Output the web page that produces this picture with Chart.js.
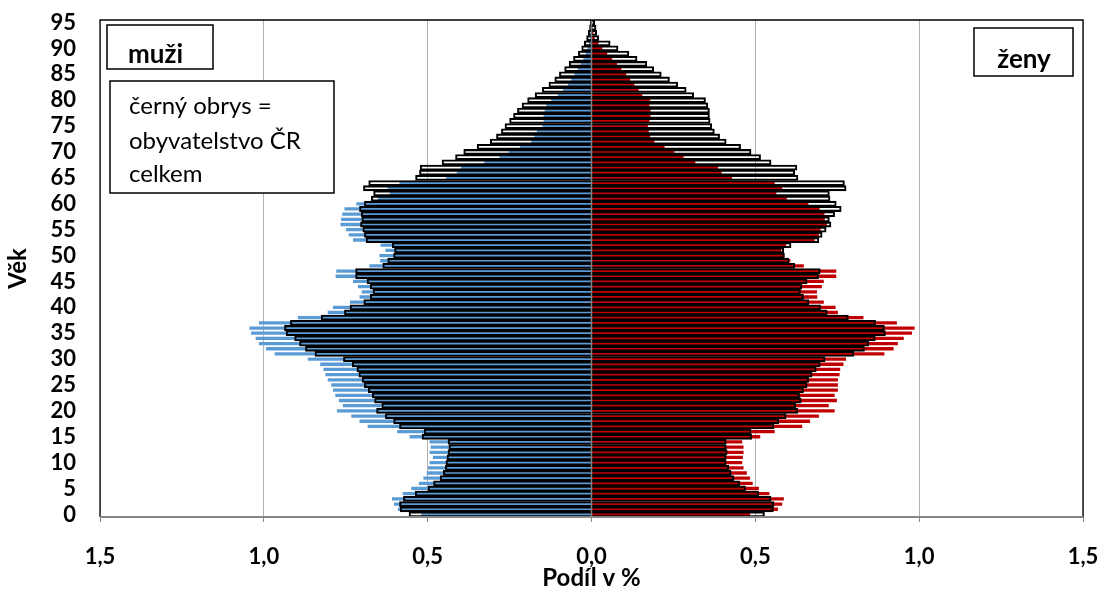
<!DOCTYPE html>
<html>
<head>
<meta charset="utf-8">
<script src="https://cdn.jsdelivr.net/npm/chart.js@4.4.1/dist/chart.umd.min.js"></script>
<style>
  html, body { margin: 0; padding: 0; background: #fff; }
  #wrap { width: 1103px; height: 590px; }
</style>
</head>
<body>
<div id="wrap"><canvas id="pyramida" width="1103" height="590"></canvas></div>
<script>
// vek 0..95
const vek = [];
for (let i = 0; i <= 95; i++) vek.push(String(i));

// podil v % - okres (barevne sloupce)
const muziOkres = [
  0.520, 0.591, 0.603, 0.609, 0.576, 0.550, 0.527, 0.513, 0.503, 0.499,
  0.494, 0.484, 0.494, 0.491, 0.494, 0.555, 0.593, 0.683, 0.708, 0.733,
  0.777, 0.759, 0.771, 0.782, 0.789, 0.794, 0.805, 0.812, 0.818, 0.828,
  0.866, 0.967, 0.993, 1.015, 1.025, 1.039, 1.044, 1.015, 0.896, 0.805,
  0.789, 0.737, 0.708, 0.701, 0.713, 0.728, 0.781, 0.779, 0.678, 0.645,
  0.647, 0.629, 0.644, 0.728, 0.741, 0.749, 0.766, 0.764, 0.761, 0.754,
  0.718, 0.652, 0.616, 0.622, 0.586, 0.444, 0.411, 0.398, 0.327, 0.281,
  0.252, 0.218, 0.184, 0.174, 0.167, 0.150, 0.146, 0.146, 0.143, 0.138,
  0.123, 0.103, 0.087, 0.072, 0.062, 0.052, 0.042, 0.033, 0.025, 0.018,
  0.012, 0.008, 0.005, 0.003, 0.002, 0.001
];
const zenyOkres = [
  0.484, 0.569, 0.582, 0.587, 0.543, 0.511, 0.492, 0.484, 0.474, 0.464,
  0.460, 0.462, 0.464, 0.464, 0.460, 0.515, 0.559, 0.643, 0.667, 0.694,
  0.742, 0.724, 0.749, 0.742, 0.752, 0.752, 0.752, 0.757, 0.759, 0.769,
  0.777, 0.894, 0.922, 0.935, 0.953, 0.978, 0.986, 0.932, 0.830, 0.752,
  0.745, 0.709, 0.689, 0.688, 0.703, 0.709, 0.747, 0.747, 0.648, 0.607,
  0.586, 0.579, 0.594, 0.681, 0.694, 0.699, 0.718, 0.712, 0.711, 0.696,
  0.662, 0.596, 0.564, 0.582, 0.559, 0.429, 0.397, 0.386, 0.317, 0.281,
  0.253, 0.223, 0.192, 0.179, 0.175, 0.172, 0.177, 0.180, 0.180, 0.177,
  0.179, 0.155, 0.144, 0.131, 0.118, 0.106, 0.091, 0.078, 0.063, 0.048,
  0.033, 0.021, 0.010, 0.006, 0.003, 0.001
];

// podil v % - CR celkem (cerny obrys)
const muziCR = [
  0.557, 0.584, 0.586, 0.574, 0.538, 0.499, 0.482, 0.462, 0.452, 0.446,
  0.444, 0.441, 0.438, 0.435, 0.438, 0.517, 0.511, 0.586, 0.604, 0.629,
  0.656, 0.640, 0.662, 0.669, 0.681, 0.693, 0.700, 0.710, 0.716, 0.730,
  0.757, 0.844, 0.873, 0.891, 0.906, 0.932, 0.937, 0.919, 0.825, 0.754,
  0.737, 0.695, 0.675, 0.667, 0.675, 0.685, 0.720, 0.720, 0.637, 0.622,
  0.604, 0.601, 0.608, 0.688, 0.693, 0.698, 0.705, 0.701, 0.703, 0.708,
  0.693, 0.672, 0.665, 0.696, 0.680, 0.537, 0.525, 0.523, 0.456, 0.415,
  0.390, 0.349, 0.309, 0.290, 0.275, 0.264, 0.250, 0.238, 0.226, 0.212,
  0.195, 0.172, 0.150, 0.130, 0.112, 0.098, 0.082, 0.068, 0.055, 0.040,
  0.030, 0.022, 0.015, 0.010, 0.006, 0.004
];
const zenyCR = [
  0.528, 0.555, 0.557, 0.548, 0.510, 0.470, 0.452, 0.434, 0.426, 0.419,
  0.411, 0.411, 0.414, 0.411, 0.411, 0.489, 0.487, 0.557, 0.572, 0.594,
  0.630, 0.623, 0.640, 0.635, 0.647, 0.658, 0.663, 0.673, 0.686, 0.698,
  0.713, 0.801, 0.833, 0.846, 0.866, 0.897, 0.894, 0.867, 0.784, 0.719,
  0.699, 0.663, 0.647, 0.638, 0.642, 0.658, 0.693, 0.698, 0.620, 0.602,
  0.589, 0.587, 0.609, 0.694, 0.704, 0.716, 0.731, 0.726, 0.742, 0.762,
  0.747, 0.728, 0.726, 0.777, 0.772, 0.630, 0.620, 0.627, 0.548, 0.516,
  0.487, 0.455, 0.411, 0.391, 0.375, 0.367, 0.362, 0.360, 0.360, 0.355,
  0.348, 0.312, 0.289, 0.263, 0.238, 0.213, 0.190, 0.169, 0.139, 0.114,
  0.081, 0.057, 0.022, 0.016, 0.014, 0.010
];

const xTicks = [-1.5, -1.0, -0.5, 0, 0.5, 1.0, 1.5];

Chart.defaults.font.family = 'Lato';
Chart.defaults.color = '#000';

// ramecek grafu, osa v nule a textove popisky
const ramecek = {
  id: 'ramecek',
  afterDatasetsDraw(chart) {
    const { ctx, chartArea: a, scales: { x } } = chart;
    const x0 = x.getPixelForValue(0);
    ctx.save();
    ctx.strokeStyle = '#7f7f7f';
    ctx.lineWidth = 1.5;
    ctx.beginPath();
    ctx.moveTo(x0, a.top);
    ctx.lineTo(x0, a.bottom);
    ctx.stroke();
    ctx.strokeStyle = '#000';
    ctx.lineWidth = 1.3;
    ctx.beginPath();
    ctx.moveTo(a.left, a.bottom);
    ctx.lineTo(a.left, a.top);
    ctx.lineTo(a.right, a.top);
    ctx.lineTo(a.right, a.bottom);
    ctx.stroke();
    ctx.strokeStyle = '#868686';
    ctx.lineWidth = 2;
    ctx.beginPath();
    ctx.moveTo(a.left, a.bottom);
    ctx.lineTo(a.right, a.bottom);
    ctx.stroke();
    ctx.restore();
  },
  afterDraw(chart) {
    const { ctx, chartArea: a } = chart;
    const box = (x, y, w, h) => {
      ctx.fillStyle = '#fff';
      ctx.fillRect(x, y, w, h);
      ctx.strokeStyle = '#000';
      ctx.lineWidth = 1.5;
      ctx.strokeRect(x, y, w, h);
    };
    ctx.save();
    box(a.left + 7, a.top + 5, 106, 44);
    box(a.left + 10, a.top + 61, 224, 112);
    box(a.right - 109, a.top + 8, 99, 48);
    ctx.fillStyle = '#000';
    ctx.textBaseline = 'alphabetic';
    ctx.textAlign = 'left';
    ctx.font = 'bold 26px Lato';
    ctx.fillText('muži', a.left + 28, a.top + 43);
    ctx.textAlign = 'center';
    ctx.fillText('ženy', a.right - 59, a.top + 48);
    ctx.textAlign = 'left';
    ctx.font = '24px Lato';
    ctx.fillText('černý obrys =', a.left + 29, a.top + 94);
    ctx.fillText('obyvatelstvo ČR', a.left + 29, a.top + 129);
    ctx.fillText('celkem', a.left + 29, a.top + 162);
    ctx.restore();
  }
};

new Chart(document.getElementById('pyramida'), {
  type: 'bar',
  data: {
    labels: vek,
    datasets: [
      { label: 'ČR muži', data: muziCR.map(v => -v), backgroundColor: 'rgba(0,0,0,0)',
        borderColor: '#000', borderWidth: 1.4, barPercentage: 1, categoryPercentage: 1, grouped: false },
      { label: 'ČR ženy', data: zenyCR, backgroundColor: 'rgba(0,0,0,0)',
        borderColor: '#000', borderWidth: 1.4, barPercentage: 1, categoryPercentage: 1, grouped: false },
      { label: 'muži', data: muziOkres.map(v => -v), backgroundColor: '#5b9bd5',
        borderWidth: 0, barPercentage: 0.64, categoryPercentage: 1, grouped: false },
      { label: 'ženy', data: zenyOkres, backgroundColor: '#c00000',
        borderWidth: 0, barPercentage: 0.64, categoryPercentage: 1, grouped: false }
    ]
  },
  options: {
    indexAxis: 'y',
    responsive: false,
    animation: false,
    layout: { padding: { top: 20, right: 20, left: 0, bottom: 0 } },
    plugins: { legend: { display: false }, tooltip: { enabled: false } },
    scales: {
      x: {
        min: -1.5, max: 1.5,
        afterBuildTicks: (s) => { s.ticks = xTicks.map(v => ({ value: v })); },
        afterFit: (s) => { s.height = 73; s.paddingLeft = 0; s.paddingRight = 0; },
        ticks: {
          font: { size: 22, weight: 'bold' }, padding: 22, maxRotation: 0,
          callback: (v) => Math.abs(v).toFixed(1).replace('.', ',')
        },
        grid: { color: '#b3b3b3', lineWidth: 1, tickColor: '#868686', tickLength: 5 },
        border: { display: false },
        title: { display: true, text: 'Podíl v %', font: { size: 24, weight: 'bold', lineHeight: 1 }, padding: { top: 0, bottom: 0 } }
      },
      y: {
        reverse: true,
        afterFit: (s) => { s.width = 100; s.paddingTop = 0; s.paddingBottom = 0; },
        ticks: {
          autoSkip: false, font: { size: 22, weight: 'bold' }, padding: 24,
          callback: (v, i) => (i % 5 === 0 ? vek[i] : '')
        },
        grid: { display: false, drawTicks: false },
        border: { display: false },
        title: { display: true, text: 'Věk', font: { size: 24, weight: 'bold', lineHeight: 1 }, padding: { top: 6, bottom: 0 } }
      }
    }
  },
  plugins: [ramecek]
});
</script>
</body>
</html>
